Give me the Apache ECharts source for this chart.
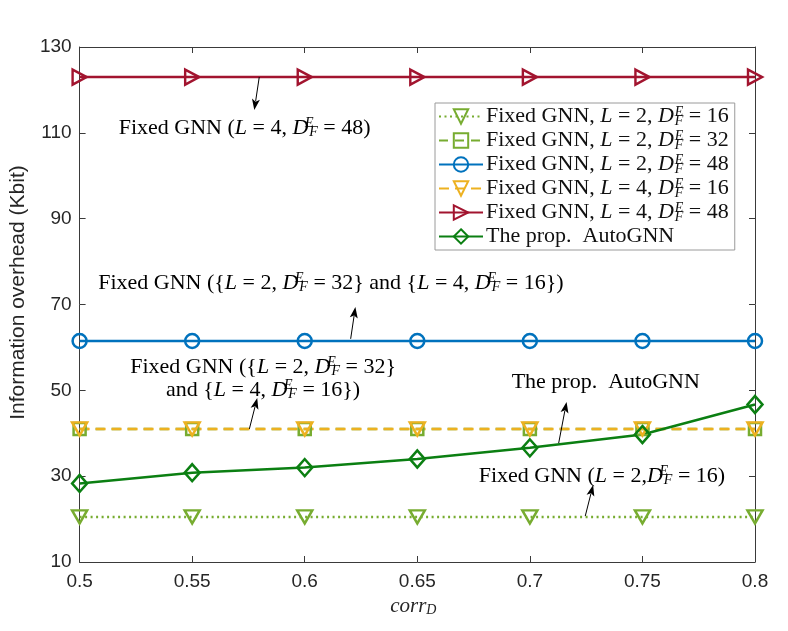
<!DOCTYPE html>
<html><head><meta charset="utf-8">
<script src="https://cdn.jsdelivr.net/npm/echarts@6/dist/echarts.min.js"></script>
<style>html,body{margin:0;padding:0;background:#fff}#c{width:788px;height:631px}</style>
</head><body><div id="c"></div>
<script>
// ---- data ----
const xValues   = [0.5, 0.55, 0.6, 0.65, 0.7, 0.75, 0.8];
const fixedL2D16 = [20.5, 20.5, 20.5, 20.5, 20.5, 20.5, 20.5];
const fixedL2D32 = [41, 41, 41, 41, 41, 41, 41];
const fixedL2D48 = [61.5, 61.5, 61.5, 61.5, 61.5, 61.5, 61.5];
const fixedL4D16 = [41, 41, 41, 41, 41, 41, 41];
const fixedL4D48 = [123, 123, 123, 123, 123, 123, 123];
const autoGNN    = [28.3, 30.8, 32.0, 34.0, 36.6, 39.7, 46.7];
const seriesNames = ['L2D16', 'L2D32', 'L2D48', 'L4D16', 'L4D48', 'Auto'];

// ---- label markup ----
const SERIF = '"Liberation Serif", "DejaVu Serif", serif';
const SANS = '"Liberation Sans", Arial, sans-serif';
const FS = 22;
function rich(tokens) {
  return tokens.map(t => t[0] === 'rb' ? '}' : '{' + t[0] + '|' + t[1] + '}').join('');
}
const DFE = [['d','D'],['sp','E'],['sb','F']];
function dLabel(L, D) {
  return [['n','Fixed GNN, '],['i','L'],['n',' = ' + L + ', ']].concat(DFE, [['n',' = ' + D]]);
}
const legendLabels = {
  L2D16: rich(dLabel(2, 16)),
  L2D32: rich(dLabel(2, 32)),
  L2D48: rich(dLabel(2, 48)),
  L4D16: rich(dLabel(4, 16)),
  L4D48: rich(dLabel(4, 48)),
  Auto: rich([['n','The prop.  AutoGNN']])
};
const baseText = {fontFamily: SERIF, fontSize: FS, color: '#111', lineHeight: 23};
const richStyles = {
  n:  {fontFamily: SERIF, fontSize: FS, color: '#111', lineHeight: 23},
  i:  {fontFamily: SERIF, fontSize: FS, fontStyle: 'italic', color: '#111', lineHeight: 23},
  d:  {fontFamily: SERIF, fontSize: FS, fontStyle: 'italic', color: '#111', lineHeight: 23, padding: [0, 1, 0, 0]},
  sp: {fontFamily: SERIF, fontSize: 14, fontStyle: 'italic', color: '#111', lineHeight: 14, verticalAlign: 'top', width: 0, align: 'left'},
  sb: {fontFamily: SERIF, fontSize: 14, fontStyle: 'italic', color: '#111', lineHeight: 12, verticalAlign: 'bottom'}
};

// annotations: positions in data coordinates
const annotations = [
  {lines: [[['n','Fixed GNN ('],['i','L'],['n',' = 4, ']].concat(DFE, [['n',' = 48)']])],
   at: [0.5733, 111.1], tail: [0.5798, 123.0], head: [0.5776, 115.3]},
  {lines: [[['n','Fixed GNN ({'],['i','L'],['n',' = 2, ']].concat(DFE, [['n',' = 32'],['rb'],['n',' and {'],['i','L'],['n',' = 4, ']], DFE, [['n',' = 16'],['rb'],['n',')']])],
   at: [0.6116, 75.0], tail: [0.6204, 62.0], head: [0.6225, 69.4]},
  {lines: [[['n','Fixed GNN ({'],['i','L'],['n',' = 2, ']].concat(DFE, [['n',' = 32'],['rb']]),
           [['n','and {'],['i','L'],['n',' = 4, ']].concat(DFE, [['n',' = 16'],['rb'],['n',')']])],
   at: [0.5815, 52.8], tail: [0.5754, 41.0], head: [0.5789, 48.2]},
  {lines: [[['n','The prop.  AutoGNN']]],
   at: [0.7337, 52.0], tail: [0.7128, 37.7], head: [0.7163, 47.3]},
  {lines: [[['n','Fixed GNN ('],['i','L'],['n',' = 2,']].concat(DFE, [['n',' = 16)']])],
   at: [0.7320, 30.0], tail: [0.7246, 20.7], head: [0.7281, 27.95]}
];

const TRI_DOWN = 'path://M0,0 L10,0 L5,9 Z';
const TRI_RIGHT = 'path://M0,0 L9,5 L0,10 Z';
const SQUARE = 'path://M0,0 L10,0 L10,10 L0,10 Z';
const DIAMOND = 'path://M5,0 L10,6 L5,12 L0,6 Z';

function mk(name, arr, color, lineType, symbol, size) {
  return {
    name: name, type: 'line', data: xValues.map((x, i) => [x, arr[i]]),
    symbol: symbol, symbolSize: size, showAllSymbol: true,
    lineStyle: {color: color, width: 2.5, type: lineType},
    itemStyle: {color: 'rgba(255,255,255,0)', borderColor: color, borderWidth: 2.5},
    emphasis: {disabled: true}, silent: true
  };
}

const axisLineStyle = {color: '#3a3a3a', width: 1};
const chart = echarts.init(document.getElementById('c'), null, {renderer: 'canvas'});
const option = {
  animation: false,
  backgroundColor: '#fff',
  grid: {left: 67, right: 33, top: 47, bottom: 69, containLabel: false},
  xAxis: [{
    type: 'value', min: 0.5, max: 0.8, interval: 0.05, position: 'bottom',
    axisLine: {lineStyle: axisLineStyle}, splitLine: {show: false},
    axisTick: {inside: true, length: 6, lineStyle: axisLineStyle},
    axisLabel: {fontFamily: SANS, fontSize: 19, color: '#262626', margin: 10},
    name: '{i|corr}{s|D}', nameLocation: 'middle', nameGap: 33,
    nameTextStyle: {padding: [0, 8, 0, 0], rich: {
      i: {fontFamily: SERIF, fontSize: 21, fontStyle: 'italic', color: '#262626', lineHeight: 22},
      s: {fontFamily: SERIF, fontSize: 14, fontStyle: 'italic', color: '#262626', lineHeight: 14, verticalAlign: 'bottom'}
    }}
  }, {
    type: 'value', min: 0.5, max: 0.8, interval: 0.05, position: 'top',
    axisLine: {lineStyle: axisLineStyle}, splitLine: {show: false},
    axisTick: {inside: true, length: 6, lineStyle: axisLineStyle}, axisLabel: {show: false}
  }],
  yAxis: [{
    type: 'value', min: 10, max: 130, interval: 20, position: 'left',
    axisLine: {show: true, lineStyle: axisLineStyle}, splitLine: {show: false},
    axisTick: {show: true, inside: true, length: 6, lineStyle: axisLineStyle},
    axisLabel: {fontFamily: SANS, fontSize: 19, color: '#262626', margin: 8},
    name: 'Information overhead (Kbit)', nameLocation: 'middle', nameGap: 42,
    nameTextStyle: {fontFamily: SANS, fontSize: 21, color: '#262626', padding: [0, 0, 0, 24]}
  }, {
    type: 'value', min: 10, max: 130, interval: 20, position: 'right',
    axisLine: {show: true, lineStyle: axisLineStyle}, splitLine: {show: false},
    axisTick: {show: true, inside: true, length: 6, lineStyle: axisLineStyle}, axisLabel: {show: false}
  }],
  legend: {
    data: seriesNames, orient: 'vertical', left: 435, top: 103,
    selectedMode: false, itemWidth: 44, itemHeight: 18, itemGap: 1,
    padding: [2, 6, 2, 3], borderColor: '#9a9a9a', borderWidth: 1, backgroundColor: '#fff',
    formatter: name => legendLabels[name],
    textStyle: Object.assign({rich: richStyles, padding: [0, 0, 0, -2]}, baseText)
  },
  series: [
    mk('L2D16', fixedL2D16, '#77AC30', [2, 3.5], TRI_DOWN, [15, 13]),
    mk('L2D32', fixedL2D32, '#77AC30', [9, 7], SQUARE, [12, 12]),
    mk('L2D48', fixedL2D48, '#0072BD', 'solid', 'circle', 14),
    mk('L4D16', fixedL4D16, '#EDB120', [10, 6], TRI_DOWN, [15, 13]),
    mk('L4D48', fixedL4D48, '#A2142F', 'solid', TRI_RIGHT, [14, 15]),
    mk('Auto', autoGNN, '#0B7F12', 'solid', DIAMOND, [15, 17])
  ]
};
chart.setOption(option);

// annotations: text + arrows, anchored via the chart's own coordinate conversion
const g = [];
annotations.forEach(a => {
  const p = chart.convertToPixel({gridIndex: 0}, a.at);
  g.push({type: 'text', silent: true, z: 100, style: Object.assign({
    x: p[0], y: p[1], text: a.lines.map(rich).join('\n'), rich: richStyles,
    align: 'center', verticalAlign: 'middle'
  }, baseText)});
  const t = chart.convertToPixel({gridIndex: 0}, a.tail);
  const h = chart.convertToPixel({gridIndex: 0}, a.head);
  const dx = h[0] - t[0], dy = h[1] - t[1], len = Math.hypot(dx, dy);
  const ux = dx / len, uy = dy / len, hl = 11, hw = 4;
  const bx = h[0] - ux * hl, by = h[1] - uy * hl;
  g.push({type: 'line', silent: true, z: 100, shape: {x1: t[0], y1: t[1], x2: bx + ux * 2, y2: by + uy * 2},
          style: {stroke: '#000', lineWidth: 1}});
  g.push({type: 'polygon', silent: true, z: 100, shape: {points: [
    [h[0], h[1]], [bx - uy * hw, by + ux * hw], [bx + ux * 2.5, by + uy * 2.5], [bx + uy * hw, by - ux * hw]
  ]}, style: {fill: '#000'}});
});
chart.setOption({graphic: g});
</script>
</body></html>
